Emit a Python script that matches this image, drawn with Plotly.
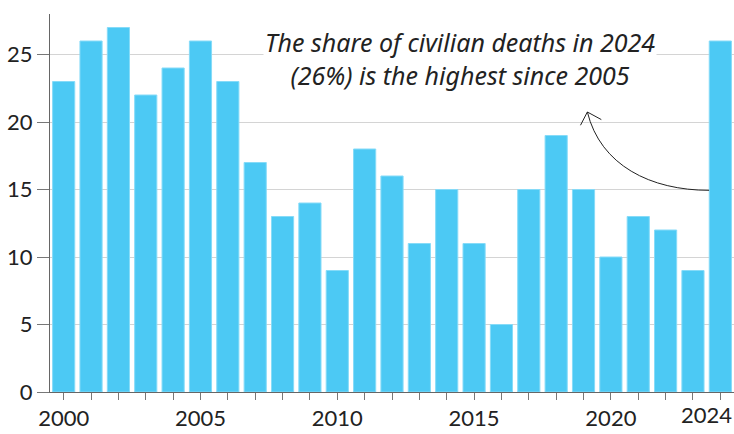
import plotly.graph_objects as go

years = list(range(2000, 2025))
civilian_share = [23, 26, 27, 22, 24, 26, 23, 17, 13, 14, 9, 18, 16, 11, 15, 11, 5, 15, 19, 15, 10, 13, 12, 9, 26]
x_label_years = [2000, 2005, 2010, 2015, 2020]
last_label = "2024"
y_ticks = [0, 5, 10, 15, 20, 25]
note = "The share of civilian deaths in 2024<br>(26%) is the highest since 2005"

FONT = "Lato"
TICK_SIZE = 22
fig = go.Figure()
fig.add_trace(go.Bar(
    x=years, y=civilian_share,
    marker=dict(color="#4cc9f4", line=dict(color="#86dbf8", width=1)),
    hoverinfo="x+y",
))

fig.update_layout(
    width=734, height=434,
    margin=dict(l=50, r=0, t=14, b=42),
    plot_bgcolor="white", paper_bgcolor="white",
    bargap=0.19,
    showlegend=False,
    font=dict(family=FONT, color="#222", size=TICK_SIZE),
    xaxis=dict(
        range=[1999.5, 2024.5],
        automargin=False,
        tickmode="array",
        tickvals=years,
        ticktext=[str(y) if y in x_label_years else "" for y in years],
        ticks="outside", ticklen=7, tickcolor="#777", tickwidth=1,
        showline=True, linecolor="#666", linewidth=1,
        showgrid=False, zeroline=False,
        tickfont=dict(size=TICK_SIZE, family=FONT, color="#222"),
    ),
    yaxis=dict(
        range=[0, 28],
        automargin=False,
        tickmode="array", tickvals=y_ticks,
        ticks="outside", ticklen=12, tickcolor="#777", tickwidth=1,
        showline=True, linecolor="#666", linewidth=1,
        showgrid=True, gridcolor="#d4d4d4", gridwidth=1,
        zeroline=False,
        tickfont=dict(size=TICK_SIZE, family=FONT, color="#222"),
    ),
)

# last x label, kept inside the figure edge
fig.add_annotation(
    x=2024.5, y=0, xref="x", yref="y",
    text=last_label, showarrow=False,
    xanchor="right", yanchor="top", yshift=-7,
    font=dict(size=TICK_SIZE, family=FONT, color="#222"),
)

fig.add_annotation(
    x=2014.47, y=24.72, xref="x", yref="y",
    text="<i>" + note + "</i>",
    showarrow=False, bgcolor="white",
    font=dict(size=25, family="Noto Sans", color="#222"),
    align="center", xanchor="center", yanchor="middle",
)

# curved arrow
fig.add_shape(
    type="path", xref="x", yref="y",
    path="M 2023.59,14.94 C 2021.45,14.94 2019.62,16.79 2019.14,20.74",
    line=dict(color="#222", width=1),
)
fig.add_shape(
    type="path", xref="x", yref="y",
    path="M 2018.89,19.76 L 2019.14,20.74 L 2019.65,20.18",
    line=dict(color="#222", width=1),
)

fig.write_html(
    "out.html",
    config={"displayModeBar": False},
    post_script="document.body.style.margin='0px';",
)
